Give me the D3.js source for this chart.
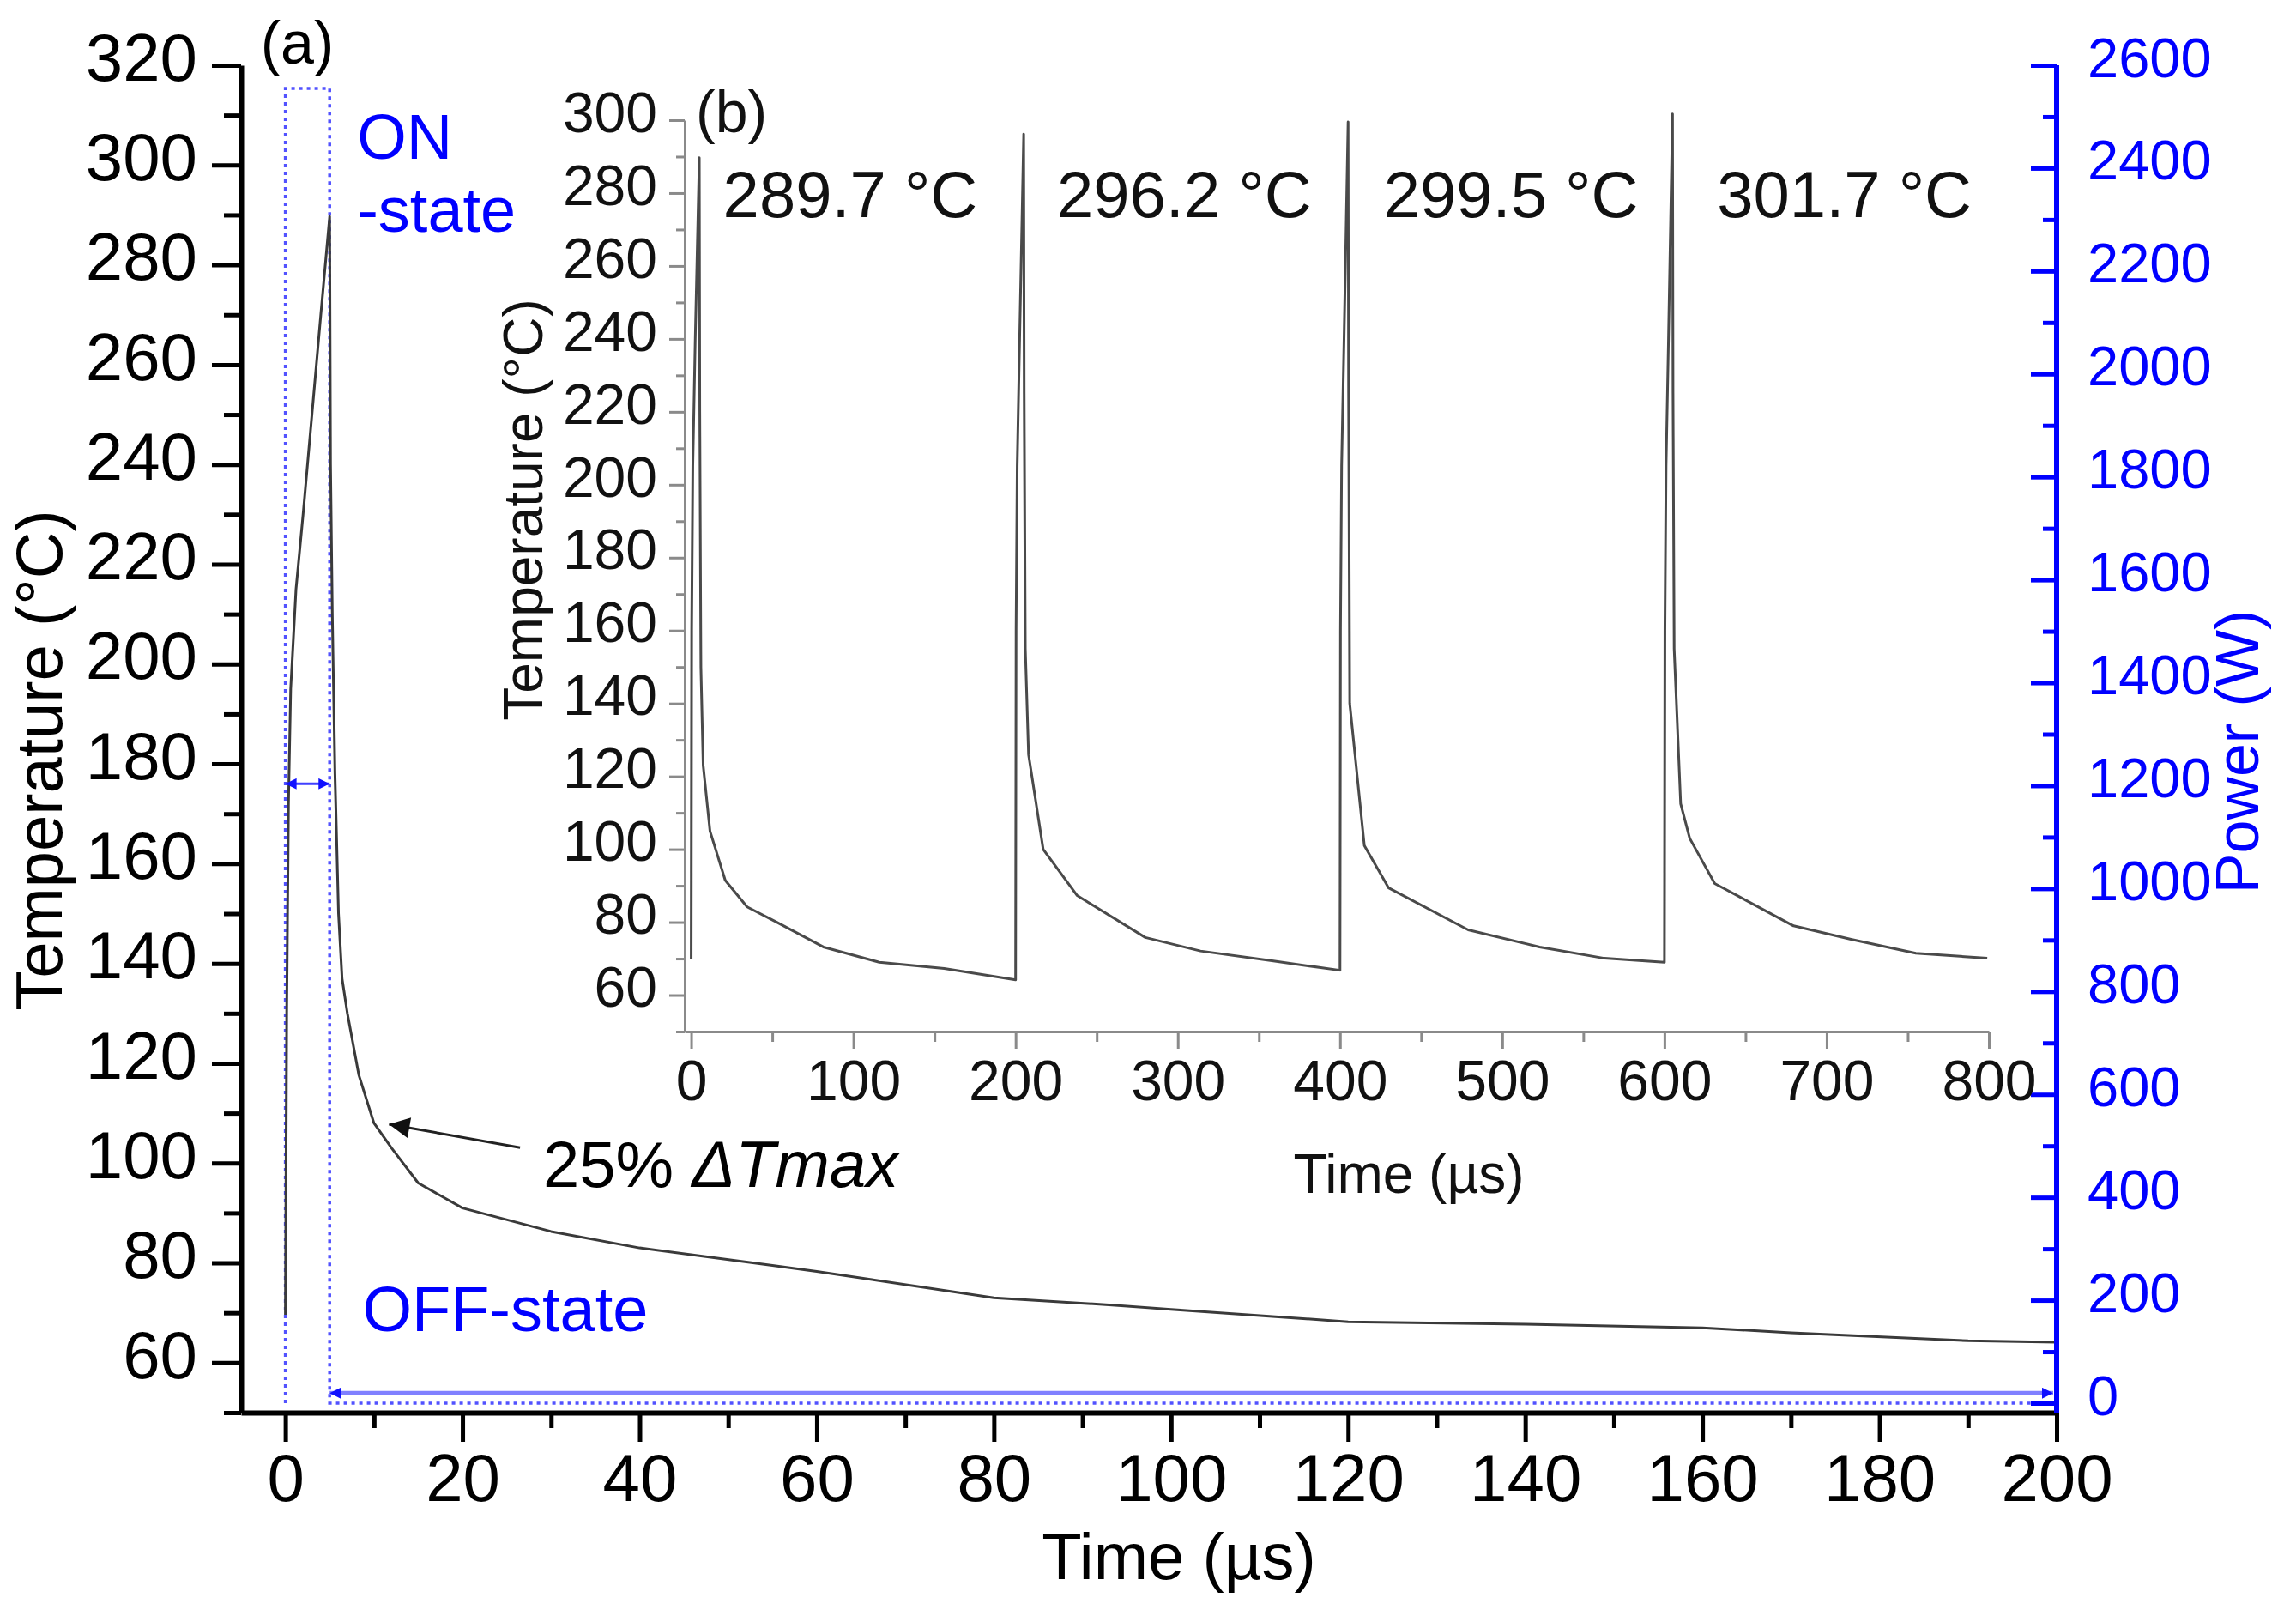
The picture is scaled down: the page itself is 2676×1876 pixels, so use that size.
<!DOCTYPE html>
<html>
<head>
<meta charset="utf-8">
<script src="https://cdn.jsdelivr.net/npm/d3@7"></script>
<style>
  html, body { margin: 0; padding: 0; background: #fff; }
  svg { display: block; }
</style>
</head>
<body>
<div id="chart"></div>
<script>
// ---- data ----
// (a) single pulse: temperature vs time
const mainTime = [0, 0.15, 0.35, 0.6, 1.2, 2, 3, 4, 5, 5.1, 5.3, 5.6, 6, 6.4, 7, 8.3, 10, 12, 15, 20, 30, 40, 55, 60, 80, 93, 100, 120, 140, 160, 170, 190, 200];
const mainTemp = [69.6, 130, 172, 195, 215, 230, 250, 270, 289.7, 240, 210, 178, 150, 137, 130, 117.6, 108, 103, 96, 91, 86.3, 83, 79.5, 78.3, 73, 71.6, 70.7, 68.2, 67.7, 67, 66, 64.4, 64.1];

// (a) power pulse (right axis)
const powerTime = [0, 0, 5, 5, 200];
const powerW = [0, 2555, 2555, 0, 0];

// (b) four consecutive pulses
const insetTime = [
  0, 0.3, 1, 2.5, 5, 5.3, 6, 7.4, 11.6, 21, 34.5, 52.8, 81.5, 116, 156, 200,
  200.3, 201, 202.5, 205, 205.3, 206, 208, 217, 238, 280, 314, 358, 400,
  400.3, 401, 402.5, 405, 405.3, 406, 415, 430, 479, 523, 563, 600,
  600.3, 601, 602.5, 605, 605.3, 606, 610, 615.6, 631, 679.6, 715, 755, 799
];
const insetTemp = [
  70, 160, 205, 240, 289.7, 220, 150, 123, 105, 91.5, 84.2, 80, 73.2, 69, 67.3, 64.2,
  160, 205, 240, 296.2, 225, 155, 126, 100, 87.3, 75.8, 72.1, 69.4, 66.8,
  160, 205, 240, 299.5, 225, 140, 101, 89.4, 77.9, 73.2, 70.1, 69,
  160, 205, 240, 301.7, 225, 155, 112.5, 103, 90.6, 79, 75.3, 71.5, 70.1
];
const peakLabels = ['289.7 °C', '296.2 °C', '299.5 °C', '301.7 °C'];
const peakLabelTime = [19.6, 225.6, 427, 632.5];

// tick values
const tempTicks = [60, 80, 100, 120, 140, 160, 180, 200, 220, 240, 260, 280, 300, 320];
const timeTicks = [0, 20, 40, 60, 80, 100, 120, 140, 160, 180, 200];
const powerTicks = [0, 200, 400, 600, 800, 1000, 1200, 1400, 1600, 1800, 2000, 2200, 2400, 2600];
const insetTempTicks = [60, 80, 100, 120, 140, 160, 180, 200, 220, 240, 260, 280, 300];
const insetTimeTicks = [0, 100, 200, 300, 400, 500, 600, 700, 800];

// ---- setup ----
const W = 2676, H = 1876;
const FONT = '"Liberation Sans", Arial, Helvetica, sans-serif';
const BLUE = '#0000ff';
const plain = d3.format('d');

const svg = d3.select('#chart').append('svg')
  .attr('width', W).attr('height', H)
  .attr('font-family', FONT);

const x = d3.scaleLinear().domain([-5, 200]).range([281, 2397]);
const y = d3.scaleLinear().domain([50, 320]).range([1646, 76]);
const yP = d3.scaleLinear().domain([0, 2600]).range([1635, 76]);

const xIn = d3.scaleLinear().domain([-4, 800]).range([798, 2318]);
const yIn = d3.scaleLinear().domain([50, 300]).range([1202, 140]);

// arrow heads
const defs = svg.append('defs');
function addMarker(id, color, w, h) {
  defs.append('marker')
    .attr('id', id)
    .attr('viewBox', '0 0 10 10')
    .attr('refX', 10).attr('refY', 5)
    .attr('markerUnits', 'userSpaceOnUse')
    .attr('markerWidth', w).attr('markerHeight', h)
    .attr('orient', 'auto-start-reverse')
    .append('path').attr('d', 'M0,0L10,5L0,10Z').attr('fill', color);
}
addMarker('blueHead', '#1010ff', 18, 13);
addMarker('blackHead', '#111', 36, 24);

// axis helper
function drawAxis(g, axis, o) {
  g.call(axis);
  g.attr('font-family', FONT).attr('font-size', o.size || 10);
  g.select('.domain').attr('stroke', o.color).attr('stroke-width', o.width);
  g.selectAll('.tick line').attr('stroke', o.color).attr('stroke-width', o.tickWidth || o.width);
  g.selectAll('.tick text').attr('fill', o.textColor || o.color);
  if (o.dy) g.selectAll('.tick text').attr('dy', o.dy);
  if (o.noDomain) g.select('.domain').remove();
}

// ---- main panel (a) ----
const main = svg.append('g');

// power pulse (dotted)
main.append('path')
  .datum(powerTime.map((t, i) => ({ t, p: powerW[i] })))
  .attr('fill', 'none')
  .attr('stroke', '#5252ff')
  .attr('stroke-width', 3.5)
  .attr('stroke-dasharray', '4,5')
  .attr('d', d3.line().x(d => x(d.t)).y(d => yP(d.p)));

// temperature curve
main.append('path')
  .datum(mainTime.map((t, i) => ({ t, v: mainTemp[i] })))
  .attr('fill', 'none')
  .attr('stroke', '#3a3a3a')
  .attr('stroke-width', 3)
  .attr('stroke-linejoin', 'round')
  .attr('d', d3.line().x(d => x(d.t)).y(d => y(d.v)));

// left axis
drawAxis(main.append('g').attr('transform', `translate(${x.range()[0]},0)`),
  d3.axisLeft(y).tickValues(d3.range(50, 320, 20)).tickFormat(() => '').tickSize(20),
  { color: '#000', width: 5, noDomain: true });
drawAxis(main.append('g').attr('transform', `translate(${x.range()[0]},0)`),
  d3.axisLeft(y).tickValues(tempTicks).tickFormat(plain).tickSize(34).tickSizeOuter(0).tickPadding(17),
  { color: '#000', width: 6, tickWidth: 5, size: 78, dy: '0.22em' });

// bottom axis
drawAxis(main.append('g').attr('transform', `translate(0,${y.range()[0]})`),
  d3.axisBottom(x).tickValues(d3.range(10, 200, 20)).tickFormat(() => '').tickSize(18),
  { color: '#000', width: 5, noDomain: true });
drawAxis(main.append('g').attr('transform', `translate(0,${y.range()[0]})`),
  d3.axisBottom(x).tickValues(timeTicks).tickFormat(plain).tickSize(34).tickSizeOuter(0).tickPadding(14),
  { color: '#000', width: 6, tickWidth: 5, size: 78 });

// right (power) axis
const xr = x.range()[1];
main.append('line')
  .attr('x1', xr).attr('x2', xr)
  .attr('y1', y.range()[0]).attr('y2', yP.range()[1])
  .attr('stroke', BLUE).attr('stroke-width', 6);
drawAxis(main.append('g').attr('transform', `translate(${xr},0)`),
  d3.axisRight(yP).tickValues(d3.range(100, 2600, 200)).tickFormat(() => '').tickSizeInner(-16).tickSizeOuter(0),
  { color: BLUE, width: 5, noDomain: true });
drawAxis(main.append('g').attr('transform', `translate(${xr},0)`),
  d3.axisRight(yP).tickValues(powerTicks).tickFormat(plain).tickSizeInner(-30).tickSizeOuter(0).tickPadding(36),
  { color: BLUE, width: 5, size: 65, dy: '0.2em', noDomain: true });

// axis titles
main.append('text')
  .attr('transform', 'translate(72,886) rotate(-90)')
  .attr('text-anchor', 'middle').attr('font-size', 76).attr('fill', '#000')
  .text('Temperature (°C)');
main.append('text')
  .attr('transform', 'translate(2632,876) rotate(-90)')
  .attr('text-anchor', 'middle').attr('font-size', 70).attr('fill', BLUE)
  .text('Power (W)');
main.append('text')
  .attr('x', 1374).attr('y', 1840)
  .attr('text-anchor', 'middle').attr('font-size', 76).attr('fill', '#000')
  .text('Time (µs)');

// annotations
main.append('text').attr('x', x(-2.8)).attr('y', y(320.3))
  .attr('font-size', 70).attr('fill', '#000').text('(a)');
main.append('text').attr('x', x(8.1)).attr('y', y(301.2))
  .attr('font-size', 74).attr('fill', BLUE).text('ON');
main.append('text').attr('x', x(8.1)).attr('y', y(286.6))
  .attr('font-size', 74).attr('fill', BLUE).text('-state');
main.append('text').attr('x', x(8.7)).attr('y', y(66.3))
  .attr('font-size', 74).attr('fill', BLUE).text('OFF-state');

// ON-state span arrow
main.append('line')
  .attr('x1', x(0)).attr('x2', x(5))
  .attr('y1', y(176)).attr('y2', y(176))
  .attr('stroke', '#4040ff').attr('stroke-width', 3)
  .attr('marker-start', 'url(#blueHead)').attr('marker-end', 'url(#blueHead)');

// OFF-state span arrow
main.append('line')
  .attr('x1', x(5)).attr('x2', x(200) - 4)
  .attr('y1', y(53.9)).attr('y2', y(53.9))
  .attr('stroke', '#8080ff').attr('stroke-width', 5)
  .attr('marker-start', 'url(#blueHead)').attr('marker-end', 'url(#blueHead)');

// 25% dTmax pointer
main.append('line')
  .attr('x1', x(26.5)).attr('y1', y(103.1))
  .attr('x2', x(11.7)).attr('y2', y(107.8))
  .attr('stroke', '#222').attr('stroke-width', 3)
  .attr('marker-end', 'url(#blackHead)');
const ann = main.append('text').attr('x', x(29.1)).attr('y', y(95.2))
  .attr('font-size', 76).attr('fill', '#000');
ann.append('tspan').text('25% ');
ann.append('tspan').attr('font-style', 'italic').text('ΔTmax');

// ---- inset (b) ----
const inset = svg.append('g');
const GRAY = '#8a8a8a';

inset.append('path')
  .datum(insetTime.map((t, i) => ({ t, v: insetTemp[i] })))
  .attr('fill', 'none')
  .attr('stroke', '#4a4a4a')
  .attr('stroke-width', 3)
  .attr('stroke-linejoin', 'round')
  .attr('d', d3.line().x(d => xIn(d.t)).y(d => yIn(d.v)));

drawAxis(inset.append('g').attr('transform', `translate(${xIn.range()[0]},0)`),
  d3.axisLeft(yIn).tickValues(d3.range(50, 300, 20)).tickFormat(() => '').tickSize(10),
  { color: GRAY, width: 3, noDomain: true });
drawAxis(inset.append('g').attr('transform', `translate(${xIn.range()[0]},0)`),
  d3.axisLeft(yIn).tickValues(insetTempTicks).tickFormat(plain).tickSize(18).tickSizeOuter(0).tickPadding(14),
  { color: GRAY, width: 3, size: 66, textColor: '#111', dy: '0.2em' });

drawAxis(inset.append('g').attr('transform', `translate(0,${yIn.range()[0]})`),
  d3.axisBottom(xIn).tickValues(d3.range(50, 800, 100)).tickFormat(() => '').tickSize(12),
  { color: GRAY, width: 3, noDomain: true });
drawAxis(inset.append('g').attr('transform', `translate(0,${yIn.range()[0]})`),
  d3.axisBottom(xIn).tickValues(insetTimeTicks).tickFormat(plain).tickSize(20).tickSizeOuter(0).tickPadding(13),
  { color: GRAY, width: 3, size: 66, textColor: '#111' });

inset.append('text')
  .attr('transform', 'translate(632,594) rotate(-90)')
  .attr('text-anchor', 'middle').attr('font-size', 64).attr('fill', '#111')
  .text('Temperature (°C)');
inset.append('text')
  .attr('x', 1642).attr('y', 1390)
  .attr('text-anchor', 'middle').attr('font-size', 64).attr('fill', '#111')
  .text('Time (µs)');
inset.append('text').attr('x', xIn(2.9)).attr('y', yIn(296.7))
  .attr('font-size', 68).attr('fill', '#111').text('(b)');

inset.selectAll('.peak')
  .data(peakLabels)
  .join('text')
  .attr('class', 'peak')
  .attr('x', (d, i) => xIn(peakLabelTime[i]))
  .attr('y', yIn(273.4))
  .attr('font-size', 76).attr('fill', '#111')
  .text(d => d);
</script>
</body>
</html>
